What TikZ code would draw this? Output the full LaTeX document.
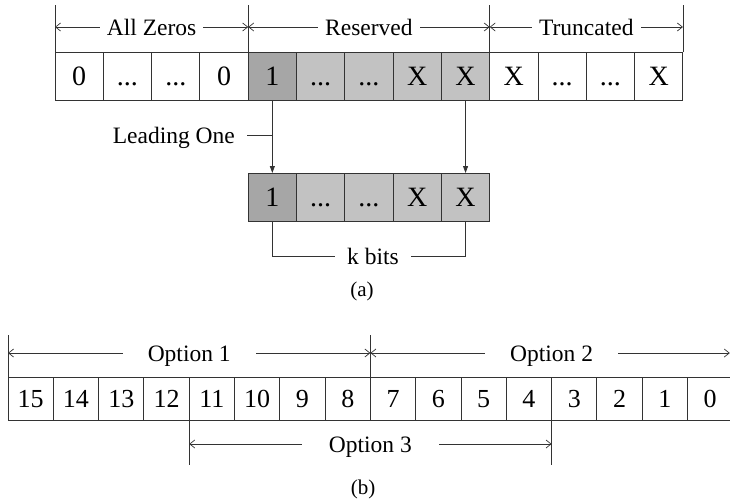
\documentclass[tikz,border=0pt]{standalone}
\usepackage{fontspec}
\setmainfont{Liberation Serif}
\usetikzlibrary{arrows.meta,positioning}
\definecolor{leadgray}{HTML}{A6A6A6}
\definecolor{resgray}{HTML}{C2C2C2}
\definecolor{rule}{HTML}{333333}

\begin{document}
\begin{tikzpicture}[
				x=1pt,y=-1pt,
				cell/.style={draw=rule,line width=0.9pt,rectangle,minimum width=48.3pt,minimum height=48pt,inner sep=0pt,outer sep=0pt,font=\fontsize{28}{31}\selectfont,text height=19pt,text depth=0pt},
				bitcell/.style={cell,minimum width=45.3pt,minimum height=43pt,font=\fontsize{26}{29}\selectfont,text height=17.6pt},
				dimline/.style={<->,>={Straight Barb[length=5pt,width=8pt]},draw=rule,line width=0.7pt},
				dimlabel/.style={fill=white,font=\fontsize{23.5}{28}\selectfont,text height=16pt,text depth=0pt,inner ysep=2pt,inner xsep=7pt},
				guide/.style={draw=rule,line width=0.8pt}
				]
				\useasboundingbox (0,0) rectangle (730,498);
				
				% (a) input word
				\node[cell] (az1) at (79.15,76) {0};
				\node[cell,right=0pt of az1] (az2) {...};
				\node[cell,right=0pt of az2] (az3) {...};
				\node[cell,right=0pt of az3] (az4) {0};
				\node[cell,fill=leadgray,right=0pt of az4] (lead) {1};
				\node[cell,fill=resgray,right=0pt of lead] (rs2) {...};
				\node[cell,fill=resgray,right=0pt of rs2] (rs3) {...};
				\node[cell,fill=resgray,right=0pt of rs3] (rs4) {X};
				\node[cell,fill=resgray,right=0pt of rs4] (rs5) {X};
				\node[cell,right=0pt of rs5] (tr1) {X};
				\node[cell,right=0pt of tr1] (tr2) {...};
				\node[cell,right=0pt of tr2] (tr3) {...};
				\node[cell,right=0pt of tr3] (tr4) {X};
				
				% (a) kept bits
				\node[cell,fill=leadgray,below=73pt of lead] (kb1) {1};
				\node[cell,fill=resgray,right=0pt of kb1] (kb2) {...};
				\node[cell,fill=resgray,right=0pt of kb2] (kb3) {...};
				\node[cell,fill=resgray,right=0pt of kb3] (kb4) {X};
				\node[cell,fill=resgray,right=0pt of kb4] (kb5) {X};
				
				% (a) field markers
				\coordinate (dimtop) at (0,5);
				\coordinate (dimrow) at (0,27);
				\draw[guide] (az1.north west) -- (az1.north west |- dimtop);
				\draw[guide] (lead.north west) -- (lead.north west |- dimtop);
				\draw[guide] (tr1.north west) -- (tr1.north west |- dimtop);
				\draw[guide] (tr4.north east) -- (tr4.north east |- dimtop);
				\draw[dimline] (az1.north west |- dimrow) -- (lead.north west |- dimrow) node[midway,dimlabel] {All Zeros};
				\draw[dimline] (lead.north west |- dimrow) -- (tr1.north west |- dimrow) node[midway,dimlabel] {Reserved};
				\draw[dimline] (tr1.north west |- dimrow) -- (tr4.north east |- dimrow) node[midway,dimlabel] {Truncated};
				
				% (a) copy down
				\draw[guide,-{Triangle[length=7pt,width=5pt]}] (lead.south) -- (kb1.north);
				\draw[guide,-{Triangle[length=7pt,width=5pt]}] (rs5.south) -- (kb5.north);
				\node[dimlabel,fill=none,anchor=east,inner xsep=12pt] (leadtxt) at (247,135) {Leading One};
				\draw[guide] (leadtxt.east) -- (leadtxt.east -| lead.south);
				\node[dimlabel,inner xsep=12pt] (kbits) at (373,256) {k bits};
				\draw[guide] (kb1.south) |- (kbits.west);
				\draw[guide] (kb5.south) |- (kbits.east);
				\node[font=\fontsize{21}{24}\selectfont] (capa) at (362,291) {(a)};
				
				% (b) 16-bit word
				\node[bitcell] (b15) at (30.65,398.5) {15};
				\node[bitcell,right=0pt of b15] (b14) {14};
				\node[bitcell,right=0pt of b14] (b13) {13};
				\node[bitcell,right=0pt of b13] (b12) {12};
				\node[bitcell,right=0pt of b12] (b11) {11};
				\node[bitcell,right=0pt of b11] (b10) {10};
				\node[bitcell,right=0pt of b10] (b9) {9};
				\node[bitcell,right=0pt of b9] (b8) {8};
				\node[bitcell,right=0pt of b8] (b7) {7};
				\node[bitcell,right=0pt of b7] (b6) {6};
				\node[bitcell,right=0pt of b6] (b5) {5};
				\node[bitcell,right=0pt of b5] (b4) {4};
				\node[bitcell,right=0pt of b4] (b3) {3};
				\node[bitcell,right=0pt of b3] (b2) {2};
				\node[bitcell,right=0pt of b2] (b1) {1};
				\node[bitcell,right=0pt of b1] (b0) {0};
				
				% (b) options
				\coordinate (opttop) at (0,335);
				\coordinate (optrow) at (0,353);
				\coordinate (opt3row) at (0,444);
				\coordinate (opt3end) at (0,465);
				\draw[guide] (b15.north west) -- (b15.north west |- opttop);
				\draw[guide] (b7.north west) -- (b7.north west |- opttop);
				\draw[guide] (b11.south west) -- (b11.south west |- opt3end);
				\draw[guide] (b3.south west) -- (b3.south west |- opt3end);
				\draw[dimline] (b15.north west |- optrow) -- (b7.north west |- optrow) node[midway,dimlabel,inner xsep=25pt] {Option 1};
				\draw[dimline,shorten >=3pt] (b7.north west |- optrow) -- (b0.north east |- optrow) node[midway,dimlabel,inner xsep=25pt] {Option 2};
				\draw[dimline] (b11.south west |- opt3row) -- (b3.south west |- opt3row) node[midway,dimlabel,inner xsep=27pt] {Option 3};
				\node[font=\fontsize{21}{24}\selectfont] (capb) at (363,489) {(b)};
				
\end{tikzpicture}
\end{document}
